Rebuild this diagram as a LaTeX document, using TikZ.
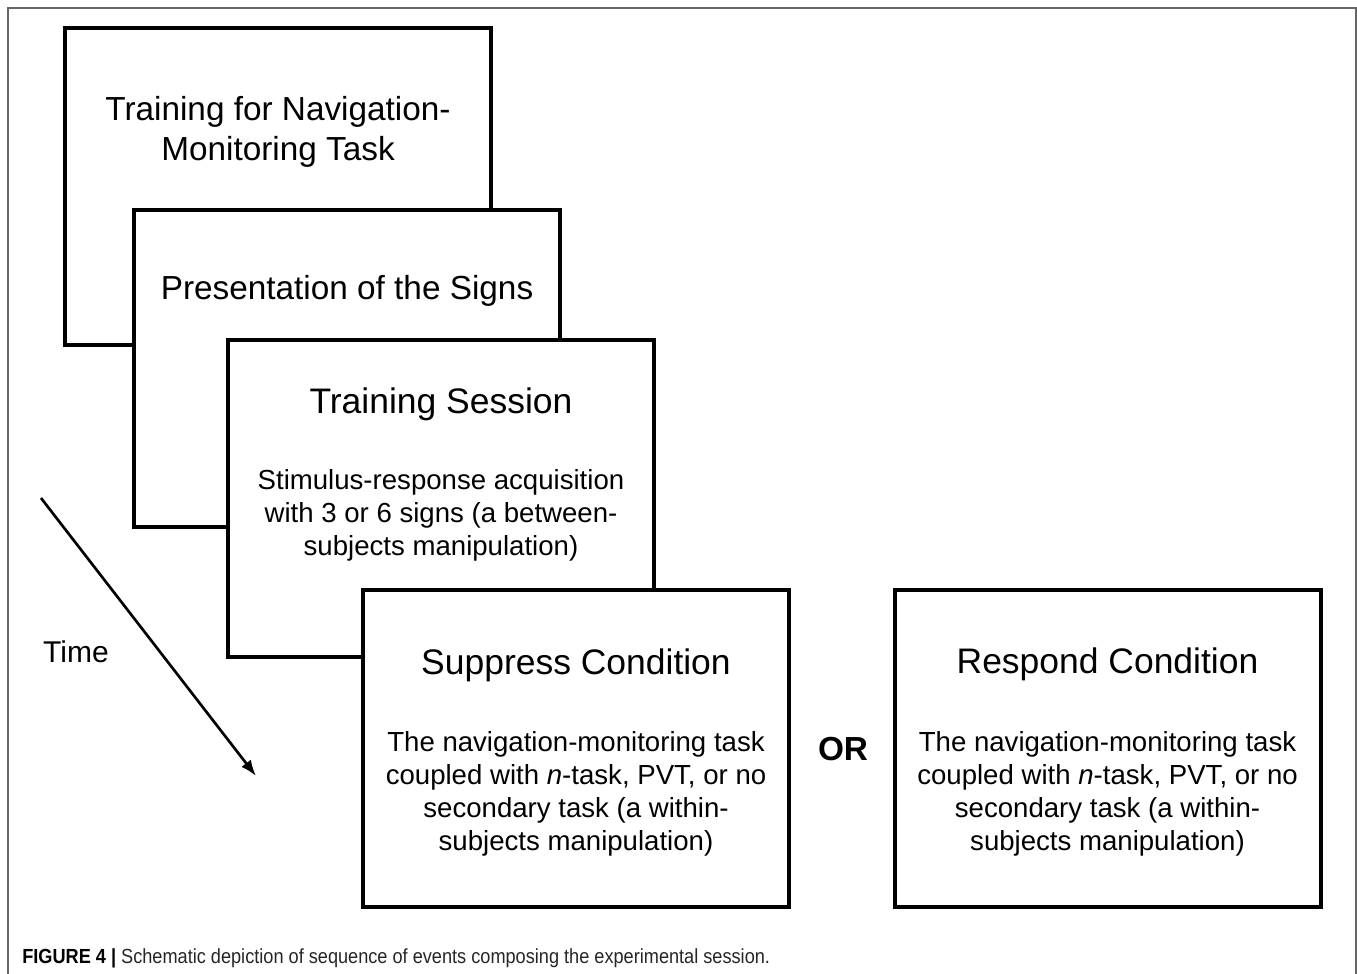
\documentclass[tikz,border=0pt]{standalone}
\usepackage{fontspec}
\setmainfont{Liberation Sans}
\newfontfamily\capfont[FakeStretch=0.89]{Liberation Sans}
\usetikzlibrary{arrows.meta,positioning}

\begin{document}
\begin{tikzpicture}[x=0.75pt,y=-0.75pt,
  stage/.style={draw,line width=3pt,fill=white,inner sep=0pt,outer sep=0pt,minimum width=319.5pt,minimum height=237.75pt},
  heading/.style={font=\fontsize{25}{30}\selectfont,align=center,inner sep=0pt},
  bigheading/.style={font=\fontsize{26.6}{32}\selectfont,align=center,inner sep=0pt},
  detail/.style={font=\fontsize{20.7}{24.8}\selectfont,align=center,inner sep=0pt}]

\useasboundingbox (0,0) rectangle (1357,974);

\draw [black!60,line width=1.5pt] (8,974) -- (8,8) -- (1356,8) -- (1356,974);

\node[stage] (nav) at (278,186.5) {};

\node[heading] (navtitle) at (278,132) {Training for Navigation-\\Monitoring Task};

\node[stage] (signs) at (347,368.5) {};

\node[heading] (signstitle) at (347,291) {Presentation of the Signs};

\node[stage] (train) at (441,498.5) {};

\node[bigheading] (traintitle) at (441,404) {Training Session};

\node[detail] (traintext) at (441,515.5) {Stimulus-response acquisition\\with 3 or 6 signs (a between-\\subjects manipulation)};

\node[stage] (supp) at (575.5,748.5) {};

\node[bigheading] (supptitle) at (576,665) {Suppress Condition};

\node[detail] (supptext) at (576,793.5) {The navigation-monitoring task\\coupled with \textit{n}-task, PVT, or no\\secondary task (a within-\\subjects manipulation)};

\node[stage] (resp) at (1107.5,748.5) {};

\node[bigheading] (resptitle) at (1107.5,664) {Respond Condition};

\node[detail] (resptext) at (1107.5,793.5) {The navigation-monitoring task\\coupled with \textit{n}-task, PVT, or no\\secondary task (a within-\\subjects manipulation)};

\node[font=\fontsize{25}{30}\selectfont\bfseries,inner sep=0pt] (or) at (843,749) {OR};

\coordinate (tstart) at (41,498);
\coordinate (tend) at (256,776);

\draw [line width=2pt,-{Latex[length=12pt,width=9pt]}] (tstart) to (tend);

\node[font=\fontsize{22.5}{27}\selectfont,inner sep=0pt] (time) at (76,652) {Time};

\node[anchor=west,inner sep=0pt,text=black!85,font=\capfont\fontsize{15.3}{18}\selectfont] (caption) at (22,958) {\textcolor{black}{\textbf{FIGURE 4 |}} Schematic depiction of sequence of events composing the experimental session.};

\end{tikzpicture}
\end{document}
